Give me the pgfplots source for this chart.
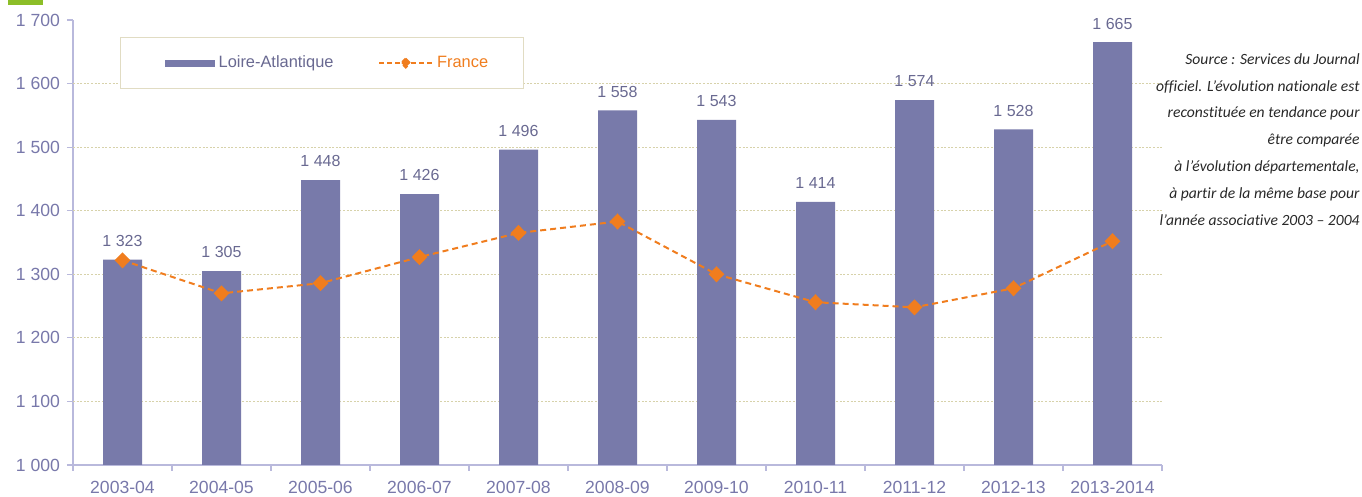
\documentclass[border=0pt]{standalone}
\usepackage{pgfplots}
\pgfplotsset{compat=1.18}
\usepackage{fontspec}
\setmainfont{Liberation Sans}
\newfontfamily\srcfont[Ligatures=NoCommon]{Carlito}
\definecolor{barc}{RGB}{120,122,170}
\definecolor{labc}{RGB}{105,105,145}
\definecolor{tickc}{RGB}{120,120,170}
\definecolor{axc}{RGB}{185,185,220}
\definecolor{gridc}{RGB}{215,210,170}
\definecolor{legc}{RGB}{225,220,195}
\definecolor{franc}{RGB}{240,125,30}
\definecolor{greenc}{RGB}{140,190,40}
\pgfplotstableread{
x y lab
0 1323 {1 323}
1 1305 {1 305}
2 1448 {1 448}
3 1426 {1 426}
4 1496 {1 496}
5 1558 {1 558}
6 1543 {1 543}
7 1414 {1 414}
8 1574 {1 574}
9 1528 {1 528}
10 1665 {1 665}
}\loire
\pgfplotstableread{
x y
0 1322
1 1270
2 1286
3 1327
4 1365
5 1383
6 1300
7 1256
8 1248
9 1278
10 1352
}\france
\begin{document}
\begin{tikzpicture}
\useasboundingbox (0,0) rectangle (681pt,248.5pt);
\fill[greenc] (4pt,246pt) rectangle (21.5pt,248.5pt);
\begin{axis}[
  at={(36.5pt,16pt)}, anchor=south west,
  scale only axis, width=544.5pt, height=222.5pt,
  xmin=-0.5, xmax=10.5, ymin=1000, ymax=1700,
  axis x line*=bottom, axis y line*=left,
  axis line style={draw=axc, line width=0.6pt, -},
  tick align=outside,
  major tick length=3pt,
  tick style={draw=axc, line width=0.6pt},
  xtick={-0.5,0.5,...,10.5},
  xticklabels={,,,,,,,,,,,,},
  extra x ticks={0,1,...,10},
  extra x tick labels={2003-04,2004-05,2005-06,2006-07,2007-08,2008-09,2009-10,2010-11,2011-12,2012-13,2013-2014},
  extra x tick style={major tick length=0pt, tick style={draw=none}},
  ytick={1000,1100,...,1700},
  yticklabels={1 000,1 100,1 200,1 300,1 400,1 500,1 600,1 700},
  extra y ticks={1100,1200,...,1600},
  extra y tick labels={},
  extra y tick style={grid=major, major tick length=0pt},
  major grid style={draw=gridc, line width=0.5pt, dash pattern=on 1pt off 0.8pt},
  tick label style={font=\fontsize{8.8}{10}\selectfont, text=tickc},
  xticklabel style={yshift=-4.5pt},
  clip mode=individual,
  legend columns=2,
  legend style={at={(0.0432,0.9618)}, anchor=north west, draw=legc, line width=0.6pt, fill=white,
    font=\fontsize{8.2}{10}\selectfont, inner xsep=15.5pt, inner ysep=7pt,
    /tikz/every even column/.append style={column sep=20.5pt}},
]
\addplot[ybar, bar width=19.5pt, fill=barc, draw=none,
  point meta=explicit symbolic,
  nodes near coords,
  every node near coord/.append style={font=\fontsize{8}{9}\selectfont, text=labc, yshift=3pt},
  legend image code/.code={\path (0pt,0pt); \fill[barc] (6.5pt,-1.75pt) rectangle (31.5pt,1.75pt);}]
  table[x=x, y=y, meta=lab] {\loire};
\addlegendentry{\textcolor{labc}{Loire-Atlantique}}
\addplot[franc, line width=1pt, dash pattern=on 3pt off 2pt, mark=diamond*, mark size=3.3pt,
  mark options={solid, fill=franc, draw=franc, xscale=1.3},
  legend image code/.code={\draw[franc, line width=0.8pt, dash pattern=on 2.5pt off 1.5pt] (0pt,0pt) -- (26.5pt,0pt);
     \fill[franc] (13.2pt,2.2pt) -- (15.4pt,0pt) -- (13.2pt,-2.2pt) -- (11pt,0pt) -- cycle;}]
  table[x=x, y=y] {\france};
\addlegendentry{\textcolor{franc}{France}}
\end{axis}
\node[anchor=north east, align=right, inner sep=0pt, text={rgb,255:red,40;green,40;blue,40},
  font=\srcfont\itshape\fontsize{7.8}{13.4}\selectfont] at (680pt,222pt)
  {Source : Services du Journal\\officiel. L’évolution nationale est\\reconstituée en tendance pour\\être comparée\\à l’évolution départementale,\\à partir de la même base pour\\l’année associative 2003 – 2004};
\end{tikzpicture}
\end{document}
